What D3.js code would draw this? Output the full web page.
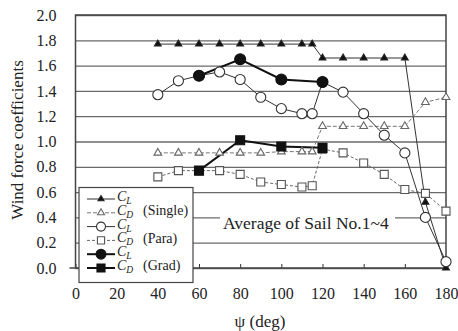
<!DOCTYPE html>
<html>
<head>
<meta charset="utf-8">
<script src="https://cdn.jsdelivr.net/npm/d3@7"></script>
<style>
  body { margin: 0; background: #fff; }
  svg { display: block; font-family: "Liberation Serif", "Times New Roman", serif; }
</style>
</head>
<body>
<svg id="chart" width="458" height="331"></svg>
<script>
// wind angle (deg)
var singleAngles = [40, 50, 60, 70, 80, 90, 100, 110, 115, 120, 130, 140, 150, 160, 170, 180]
var singleCL = [1.77, 1.77, 1.77, 1.77, 1.77, 1.77, 1.77, 1.77, 1.77, 1.66, 1.66, 1.66, 1.66, 1.66, 0.52, 0.0]
var singleCD = [0.91, 0.91, 0.91, 0.91, 0.91, 0.91, 0.92, 0.92, 0.92, 1.12, 1.12, 1.12, 1.12, 1.12, 1.31, 1.35]

var paraAngles = [40, 50, 60, 70, 80, 90, 100, 110, 115, 120, 130, 140, 150, 160, 170, 180]
var paraCL = [1.37, 1.48, 1.52, 1.55, 1.49, 1.35, 1.26, 1.22, 1.22, 1.47, 1.39, 1.22, 1.05, 0.91, 0.40, 0.05]
var paraCD = [0.72, 0.77, 0.77, 0.77, 0.74, 0.68, 0.66, 0.64, 0.65, 0.94, 0.91, 0.83, 0.74, 0.62, 0.59, 0.45]

var gradAngles = [60, 80, 100, 120]
var gradCL = [1.52, 1.65, 1.49, 1.47]
var gradCD = [0.77, 1.01, 0.96, 0.95]

var xTicks = [0, 20, 40, 60, 80, 100, 120, 140, 160, 180]
var yTicks = [0, 0.2, 0.4, 0.6, 0.8, 1.0, 1.2, 1.4, 1.6, 1.8, 2.0]

var serif = "Liberation Serif, Times New Roman, serif"
var margin = { top: 15, left: 75.5 }
var width = 370.5
var height = 253

var svg = d3.select("#chart")
var g = svg.append("g").attr("transform", "translate(" + margin.left + "," + margin.top + ")")

var x = d3.scaleLinear().domain([0, 180]).range([0, width])
var y = d3.scaleLinear().domain([0, 2]).range([height, 0])

// gridlines + y labels
var yAxis = g.append("g")
  .call(d3.axisLeft(y).tickValues(yTicks).tickFormat(d3.format(".1f")).tickSize(-width).tickPadding(19))
  .attr("font-family", serif)
yAxis.select(".domain").remove()
yAxis.selectAll(".tick line").attr("stroke", "#6a6a6a").attr("stroke-width", 1.3)
yAxis.selectAll("text").attr("font-size", 16).attr("fill", "#222")

var xAxis = g.append("g")
  .attr("transform", "translate(0," + height + ")")
  .call(d3.axisBottom(x).tickValues(xTicks).tickSize(-4).tickPadding(20))
  .attr("font-family", serif)
xAxis.select(".domain").remove()
xAxis.selectAll(".tick line").attr("stroke", "#333")
xAxis.selectAll("text").attr("font-size", 16).attr("fill", "#222")

// frame
g.append("rect")
  .attr("width", width).attr("height", height)
  .attr("fill", "none").attr("stroke", "#444").attr("stroke-width", 1.5)
g.append("line")
  .attr("x1", -6).attr("x2", 0).attr("y1", height).attr("y2", height)
  .attr("stroke", "#444").attr("stroke-width", 1.5)

var series = [
  { xs: singleAngles, ys: singleCL, sym: d3.symbolTriangle, size: 20, fill: "#111", stroke: "#222", lw: 1, dash: null, lineColor: "#333" },
  { xs: singleAngles, ys: singleCD, sym: d3.symbolTriangle, size: 26, fill: "#fff", stroke: "#666", lw: 1, dash: "4,2", lineColor: "#777" },
  { xs: paraAngles, ys: paraCL, sym: d3.symbolCircle, size: 80, fill: "#fff", stroke: "#333", lw: 1, dash: null, lineColor: "#333" },
  { xs: paraAngles, ys: paraCD, sym: d3.symbolSquare, size: 64, fill: "#fff", stroke: "#555", lw: 1, dash: "3,2", lineColor: "#666" },
  { xs: gradAngles, ys: gradCL, sym: d3.symbolCircle, size: 95, fill: "#111", stroke: "#111", lw: 2, dash: null, lineColor: "#111" },
  { xs: gradAngles, ys: gradCD, sym: d3.symbolSquare, size: 81, fill: "#111", stroke: "#111", lw: 2, dash: null, lineColor: "#111" }
]

var line = d3.line().x(function (d) { return x(d[0]) }).y(function (d) { return y(d[1]) })

series.forEach(function (s) {
  var pts = s.xs.map(function (a, i) { return [a, s.ys[i]] })
  g.append("path")
    .datum(pts)
    .attr("d", line)
    .attr("fill", "none")
    .attr("stroke", s.lineColor)
    .attr("stroke-width", s.lw)
    .attr("stroke-dasharray", s.dash)
})

series.forEach(function (s) {
  var pts = s.xs.map(function (a, i) { return [a, s.ys[i]] })
  g.selectAll(null)
    .data(pts)
    .enter().append("path")
    .attr("transform", function (d) { return "translate(" + x(d[0]) + "," + y(d[1]) + ")" })
    .attr("d", d3.symbol().type(s.sym).size(s.size))
    .attr("fill", s.fill)
    .attr("stroke", s.stroke)
    .attr("stroke-width", 1.1)
})

// annotation
var note = g.append("g").attr("transform", "translate(" + (223 - margin.left) + "," + (229 - margin.top) + ")")
note.append("rect").attr("x", -3).attr("y", -14).attr("width", 175).attr("height", 19).attr("fill", "#fff")
note.append("text").attr("font-size", 17.5).attr("fill", "#222").text("Average of Sail No.1~4")

// legend
var leg = svg.append("g").attr("transform", "translate(79,187.5)")
leg.append("rect").attr("width", 114).attr("height", 95)
  .attr("fill", "#fff").attr("stroke", "#444").attr("stroke-width", 1.2)

var subs = ["L", "D", "L", "D", "L", "D"]
series.forEach(function (s, i) {
  var ry = 11.5 + i * 13.8
  leg.append("line")
    .attr("x1", 8).attr("x2", 36).attr("y1", ry).attr("y2", ry)
    .attr("stroke", s.lineColor).attr("stroke-width", s.lw).attr("stroke-dasharray", s.dash)
  leg.append("path")
    .attr("transform", "translate(22," + ry + ")")
    .attr("d", d3.symbol().type(s.sym).size(s.size * 0.8))
    .attr("fill", s.fill).attr("stroke", s.stroke).attr("stroke-width", 1.1)
  var t = leg.append("text").attr("x", 38).attr("y", ry + 2).attr("font-size", 14).attr("font-style", "italic").attr("fill", "#222")
  t.append("tspan").text("C")
  t.append("tspan").attr("dy", 3).attr("font-size", 9.5).text(subs[i])
})

var groups = ["(Single)", "(Para)", "(Grad)"]
groups.forEach(function (name, i) {
  leg.append("text")
    .attr("x", 64).attr("y", 27.5 + i * 27.6)
    .attr("font-size", 14).attr("fill", "#222")
    .text(name)
})

// axis titles
svg.append("text")
  .attr("transform", "translate(23,140) rotate(-90)")
  .attr("text-anchor", "middle")
  .attr("font-size", 17)
  .attr("fill", "#222")
  .text("Wind force coefficients")

svg.append("text")
  .attr("x", 260).attr("y", 327)
  .attr("text-anchor", "middle")
  .attr("font-size", 17)
  .attr("fill", "#222")
  .text("ψ (deg)")
</script>
</body>
</html>
